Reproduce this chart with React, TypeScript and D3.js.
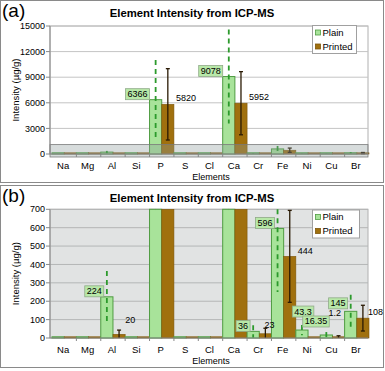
import * as d3 from 'd3'

const ELEMENTS = ['Na', 'Mg', 'Al', 'Si', 'P', 'S', 'Cl', 'Ca', 'Cr', 'Fe', 'Ni', 'Cu', 'Br']
const PLAIN = [0, 0, 224, 0, 6366, 0, 0, 9078, 36, 596, 43.3, 16.35, 145]
const PRINTED = [0, 0, 20, 0, 5820, 0, 0, 5952, 23, 444, 0, 1.2, 108]
const PLAIN_ERR = [0, 0, 140, 0, 4650, 0, 0, 5500, 34, 346, 28, 16, 90]
const PRINTED_ERR = [0, 0, 23, 0, 4180, 0, 0, 3700, 30, 250, 0, 11, 70]
const TICKS_A = [0, 3000, 6000, 9000, 12000, 15000]
const TICKS_B = [0, 100, 200, 300, 400, 500, 600, 700]
const LABELED_A = ['P', 'Ca']
const LABELED_B = ['Al', 'Cr', 'Fe', 'Ni', 'Cu', 'Br']
const SERIES = ['Plain', 'Printed']

const FONT = 'Liberation Sans, Arial, sans-serif'
const PLAIN_FILL = '#a8e39a'
const PLAIN_STROKE = '#4f9c42'
const PRINTED_FILL = '#a0700e'
const PRINTED_STROKE = '#7d560a'

// label nudges for the zoomed panel, where small values crowd together
const NUDGE_B: Record<string, { plain?: [number, number]; printed?: [number, number] }> = {
  Al: { printed: [-2, -8] },
  Cr: { printed: [-9, -3] },
  Ni: { plain: [15, -13] },
  Cu: { plain: [6, -8], printed: [-18, -19] },
  Br: { plain: [0, -2.5], printed: [-3, 0] },
}

type PanelProps = {
  top: number
  tag: string
  ticks: number[]
  labeled: string[]
  plotTop: number
  plotBottom: number
  bg: string
  grid: string
  boxDx: number
  nudge?: typeof NUDGE_B
  zoomBand?: boolean
  legendBox: [number, number, number, number]
}

const textWidth = (s: string) => s.replace(/\./g, '').length * 5 + (s.split('.').length - 1) * 2.5

function Panel({ top, tag, ticks, labeled, plotTop, plotBottom, bg, grid, boxDx, nudge = {}, zoomBand, legendBox }: PanelProps) {
  const left = 50
  const right = 368
  const yMax = ticks[ticks.length - 1]
  const y = d3.scaleLinear().domain([0, yMax]).range([plotBottom, plotTop])
  const x0 = d3.scaleBand().domain(ELEMENTS).range([52, 369]).padding(0)
  const x1 = d3.scaleBand().domain(SERIES).range([0, x0.bandwidth()]).padding(0)
  const yc = (v: number) => Math.min(Math.max(y(v), plotTop), plotBottom)
  const [lx, ly, lw, lh] = legendBox

  return (
    <g transform={`translate(0, ${top})`} fontFamily={FONT}>
      <rect x={0.5} y={0.5} width={383} height={182} fill="white" stroke="#8a8a8a" />
      <text x={2} y={17} fontSize={19}>{tag}</text>
      <text x={192} y={17} fontSize={11.3} fontWeight="bold" textAnchor="middle">Element Intensity from ICP-MS</text>

      <rect x={left} y={plotTop} width={right - left} height={plotBottom - plotTop} fill={bg} stroke="#b0b0b0" />
      {ticks.filter(t => t > 0).map(t => (
        <line key={t} x1={left} x2={right} y1={y(t)} y2={y(t)} stroke={grid} strokeWidth={1} />
      ))}

      {ELEMENTS.map((el, i) => {
        const gx = x0(el) as number
        const px = gx + (x1('Plain') as number)
        const qx = gx + (x1('Printed') as number)
        const w = x1.bandwidth()
        const pTop = yc(PLAIN[i])
        const qTop = yc(PRINTED[i])
        const pH = Math.max(plotBottom - pTop, 1.2)
        const qH = Math.max(plotBottom - qTop, 1.2)
        const qHi = yc(PRINTED[i] + PRINTED_ERR[i])
        const qLo = yc(Math.max(PRINTED[i] - PRINTED_ERR[i], 0))
        return (
          <g key={el}>
            <rect x={px} y={plotBottom - pH} width={w} height={pH} fill={PLAIN_FILL} stroke={PLAIN_STROKE} strokeWidth={1} />
            <rect x={qx} y={plotBottom - qH} width={w} height={qH} fill={PRINTED_FILL} stroke={PRINTED_STROKE} strokeWidth={0.6} />
            {PLAIN_ERR[i] > 0 && (
              <line x1={px + w / 2} x2={px + w / 2}
                y1={yc(PLAIN[i] + PLAIN_ERR[i])} y2={yc(Math.max(PLAIN[i] - PLAIN_ERR[i], 0))}
                stroke="#2c9a2c" strokeWidth={1.8} strokeDasharray="5,4" />
            )}
            {PRINTED_ERR[i] > 0 && qLo - qHi > 0.5 && (
              <g stroke="#2a1a04" strokeWidth={1.3}>
                <line x1={qx + w / 2} x2={qx + w / 2} y1={qHi} y2={qLo} />
                {qHi > plotTop && <line x1={qx + w / 2 - 2} x2={qx + w / 2 + 2} y1={qHi} y2={qHi} />}
                {qLo < plotBottom && <line x1={qx + w / 2 - 2} x2={qx + w / 2 + 2} y1={qLo} y2={qLo} />}
              </g>
            )}
          </g>
        )
      })}

      {zoomBand && (
        <rect x={left} y={y(1100)} width={right - left} height={plotBottom + 3 - y(1100)}
          fill="#8c9c9c" fillOpacity={0.35} stroke="#7a7a7a" strokeWidth={0.8} />
      )}

      {/* axes */}
      <line x1={left} x2={left} y1={plotTop} y2={plotBottom} stroke="#888" />
      <line x1={left} x2={right} y1={plotBottom} y2={plotBottom} stroke="#888" />
      {ticks.map(t => (
        <g key={t}>
          <line x1={left - 4} x2={left} y1={y(t)} y2={y(t)} stroke="#888" />
          <text x={left - 5} y={y(t)} dy="0.35em" fontSize={9} textAnchor="end">{t}</text>
        </g>
      ))}
      {ELEMENTS.map((el, i) => (
        <g key={el}>
          {i > 0 && <line x1={x0(el)} x2={x0(el)} y1={plotBottom} y2={plotBottom + 3} stroke="#888" />}
          <text x={(x0(el) as number) + x0.bandwidth() / 2 - 1} y={plotBottom + 15} fontSize={9.5} textAnchor="middle">{el}</text>
        </g>
      ))}
      <text x={211} y={plotBottom + 26} fontSize={9} textAnchor="middle">Elements</text>
      <text transform={`translate(19, ${(plotTop + plotBottom) / 2}) rotate(-90)`} fontSize={9.5} textAnchor="middle">Intensity (µg/g)</text>

      {/* value labels */}
      {ELEMENTS.map((el, i) => {
        if (!labeled.includes(el)) return null
        const gx = x0(el) as number
        const w = x1.bandwidth()
        const pn = nudge[el]?.plain ?? [0, 0]
        const qn = nudge[el]?.printed ?? [0, 0]
        const pText = String(PLAIN[i])
        const bw = textWidth(pText) + 4
        const bRight = gx + boxDx + pn[0]
        const bBottom = yc(PLAIN[i]) + pn[1]
        return (
          <g key={el} fontSize={9}>
            <rect x={bRight - bw} y={bBottom - 11} width={bw} height={11} fill="#b8e8a8" stroke="#8faa88" strokeWidth={0.8} />
            <text x={bRight - bw / 2} y={bBottom - 2.5} textAnchor="middle">{pText}</text>
            {PRINTED[i] > 0 && (
              <text x={gx + w * 2 + 2 + qn[0]} y={yc(PRINTED[i]) - 6 + qn[1]} dy="0.35em">{String(PRINTED[i])}</text>
            )}
          </g>
        )
      })}

      {/* legend */}
      <rect x={lx} y={ly} width={lw} height={lh} fill="white" stroke="#a0a0a0" />
      {SERIES.map((s, i) => (
        <g key={s} transform={`translate(${lx + 3}, ${ly + 7 + i * 14})`}>
          <rect x={0} y={-2.5} width={5} height={5} fill={i === 0 ? PLAIN_FILL : PRINTED_FILL} stroke={i === 0 ? PLAIN_STROKE : PRINTED_STROKE} strokeWidth={0.8} />
          <text x={7} y={0} dy="0.35em" fontSize={9.5}>{s}</text>
        </g>
      ))}
    </g>
  )
}

export default function App() {
  return (
    <svg width={385} height={371} style={{ position: 'absolute', left: 0, top: 0 }}>
      <rect width={385} height={371} fill="white" />
      <Panel top={0} tag="(a)" ticks={TICKS_A} labeled={LABELED_A} plotTop={26} plotBottom={154}
        bg="white" grid="#c4c4c4" boxDx={0} zoomBand legendBox={[312.5, 25.5, 44, 28]} />
      <Panel top={185} tag="(b)" ticks={TICKS_B} labeled={LABELED_B} plotTop={24.3} plotBottom={153}
        bg="#e1e3e3" grid="#b4b6b6" boxDx={3} nudge={NUDGE_B} legendBox={[312.5, 25, 47, 28]} />
    </svg>
  )
}
